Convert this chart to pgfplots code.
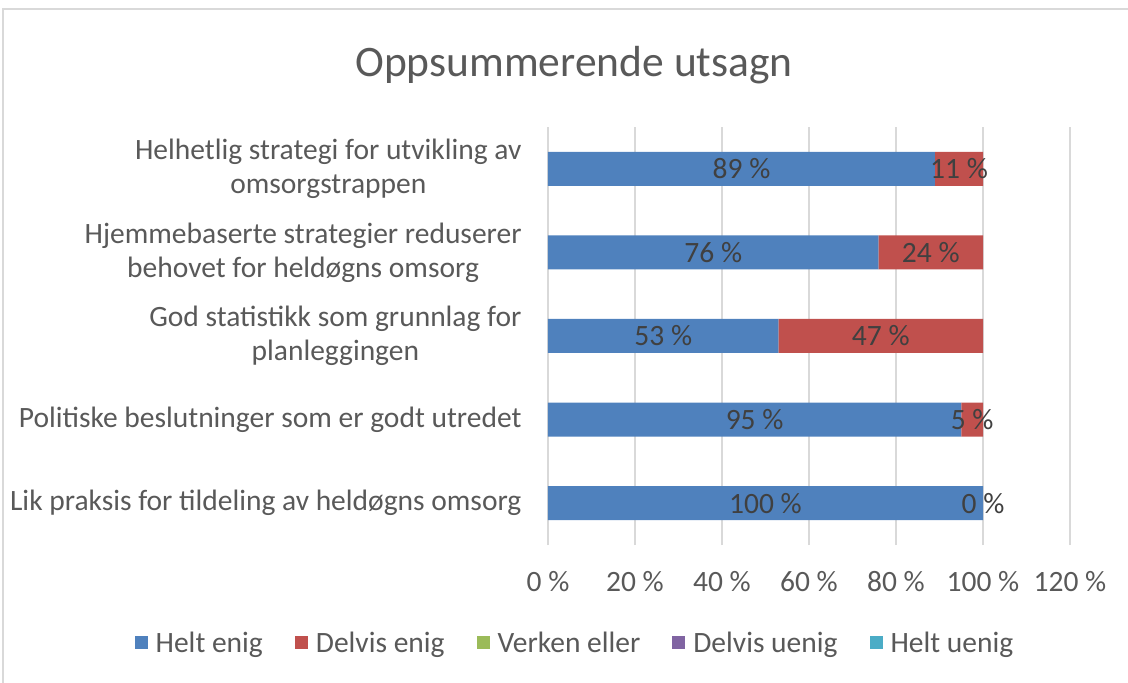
\documentclass[border=0pt]{standalone}
\usepackage{pgfplots}
\pgfplotsset{compat=1.18}
\usepackage{fontspec}
\setmainfont{Carlito}
\definecolor{cblue}{HTML}{4F81BD}
\definecolor{cred}{HTML}{C0504D}
\definecolor{cgreen}{HTML}{9BBB59}
\definecolor{cpurple}{HTML}{8064A2}
\definecolor{ccyan}{HTML}{4BACC6}
\definecolor{cgrid}{HTML}{D9D9D9}
\definecolor{ctext}{HTML}{595959}
\definecolor{clabel}{HTML}{404040}

\begin{document}
\begin{tikzpicture}[x=1pt,y=1pt]
\useasboundingbox (0,0) rectangle (1128,683);
\draw[cgrid, line width=1.5pt] (3,0) -- (3,674) -- (1128,674);
\node[font=\fontsize{43.5}{52}\selectfont, text=ctext, anchor=base] at (574,606) {Oppsummerende utsagn};
\begin{axis}[
  at={(548pt,138pt)}, anchor=south west,
  scale only axis, width=522pt, height=418pt,
  disabledatascaling,
  xbar stacked, bar width=34pt,
  reverse stacked plots=false,
  xmin=0, xmax=120, ymin=-0.5, ymax=4.5,
  xtick={0,20,...,120},
  xticklabel={\pgfmathprintnumber[assume math mode=true]{\tick}~\%},
  ytick={0,1,2,3,4},
  yticklabels={
    Lik praksis for tildeling av heldøgns omsorg,
    Politiske beslutninger som er godt utredet,
    {God statistikk som grunnlag for\\planleggingen},
    {Hjemmebaserte strategier reduserer\\behovet for heldøgns omsorg},
    {Helhetlig strategi for utvikling av\\omsorgstrappen}},
  yticklabel style={align=center, anchor=east, xshift=-23pt,
    font=\fontsize{29.5}{34}\selectfont, text=ctext},
  xticklabel style={font=\fontsize{29.5}{34}\selectfont, text=ctext, yshift=-23pt},
  major tick length=0pt,
  axis line style={draw=none},
  xmajorgrids, grid style={cgrid, line width=2pt},
  legend columns=5,
  legend style={at={(0.0517,-0.234)}, anchor=center, draw=none,
    font=\fontsize{29.5}{34}\selectfont, text=ctext,
    /tikz/every odd column/.append style={column sep=6pt},
    /tikz/every even column/.append style={column sep=30pt}},
  legend image code/.code={\fill[#1] (0pt,-6.5pt) rectangle (13pt,6.5pt);},
  nodes near coords style={font=\fontsize{29.5}{34}\selectfont, text=clabel},
  % label of the zero-length "Delvis enig" bar, which pgfplots leaves out
  after end axis/.code={
    \node[font=\fontsize{29.5}{34}\selectfont, text=clabel] at (axis cs:100,0) {0~\%};
  },
]
\addplot[fill=cblue, draw=none, nodes near coords={\pgfmathprintnumber[assume math mode=true]{\pgfplotspointmeta}~\%}]
  coordinates {(100,0) (95,1) (53,2) (76,3) (89,4)};
\addplot[fill=cred, draw=none, nodes near coords={\pgfmathprintnumber[assume math mode=true]{\pgfplotspointmeta}~\%}]
  coordinates {(0,0) (5,1) (47,2) (24,3) (11,4)};
\addplot[fill=cgreen, draw=none] coordinates {(0,0) (0,1) (0,2) (0,3) (0,4)};
\addplot[fill=cpurple, draw=none] coordinates {(0,0) (0,1) (0,2) (0,3) (0,4)};
\addplot[fill=ccyan, draw=none] coordinates {(0,0) (0,1) (0,2) (0,3) (0,4)};
\legend{Helt enig, Delvis enig, Verken eller, Delvis uenig, Helt uenig}
\end{axis}
\end{tikzpicture}
\end{document}
